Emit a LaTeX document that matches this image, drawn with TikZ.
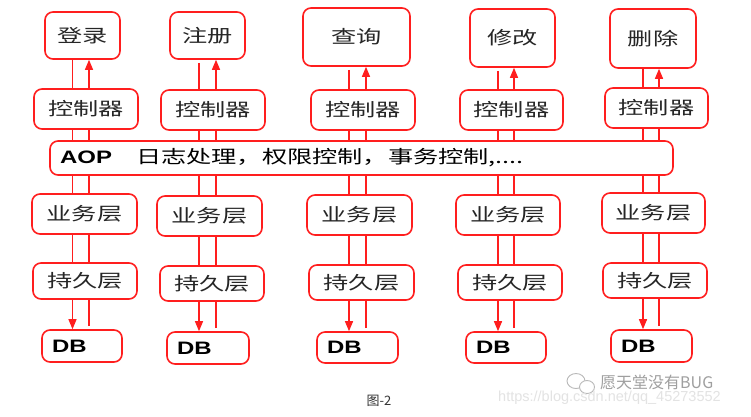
\documentclass[tikz,border=0pt]{standalone}
\usepackage{fontspec}
\setmainfont{Liberation Sans}
\newfontfamily\cjkw[FakeStretch=1.4]{Noto Sans CJK SC}
\newfontfamily\cjkn{Noto Sans CJK SC}
\newfontfamily\latw[FakeStretch=1.33]{Liberation Sans}
\usetikzlibrary{arrows.meta}
\pgfdeclarelayer{back}
\pgfdeclarelayer{bg}
\pgfsetlayers{back,bg,main}
\definecolor{lnred}{RGB}{255,30,30}
\tikzset{
  box/.style={draw=lnred, line width=1.6pt, rounded corners=8pt, fill=white,
    inner sep=0pt, text=black!85, font=\cjkw\fontsize{18}{20}\selectfont},
  dbbox/.style={box, font=\latw\bfseries\fontsize{18}{20}\selectfont, text=black},
  conn/.style={draw=lnred, line width=1.3pt},
  arr/.style={conn, -{Triangle[length=10pt,width=8pt]}},
  gap/.style={shorten <=3pt}
}
\newcommand\bx[7][box]{%
  \node[#1, minimum width={(#5-#3)*1pt}, minimum height={(#6-#4)*1pt}]
    (#2) at ({(#3+#5)/2},{(#4+#6)/2}) {#7};}
\begin{document}
\begin{tikzpicture}[x=1pt,y=-1pt]
\begin{pgfonlayer}{back}
\fill[white] (0,0) rectangle (751,416);
\end{pgfonlayer}
\useasboundingbox (0,0) rectangle (751,416);

% top boxes
\bx{t1}{45}{12}{120}{59}{登录}
\bx{t2}{170}{12}{245}{59}{注册}
\bx{t3}{303}{8}{410}{66}{查询}
\bx{t4}{470}{9}{555}{67}{修改}
\bx{t5}{610}{9}{696}{68}{删除}
% controllers
\bx{c1}{34}{89}{138}{129}{控制器}
\bx{c2}{161}{90}{265}{130}{控制器}
\bx{c3}{311}{90}{415}{130}{控制器}
\bx{c4}{460}{90}{563}{130}{控制器}
\bx{c5}{605}{88}{708}{128}{控制器}
% AOP bar
\bx{aop}{50}{141}{673}{175}{}
\node[anchor=west, inner sep=0pt] (aoptxt) at (60,158)
  {{\latw\bfseries\fontsize{18}{20}\selectfont AOP}\hspace{24pt}{\cjkw\fontsize{18}{20}\selectfont 日志处理，权限控制，事务控制,....}};
% service
\bx{s1}{32}{194}{137}{234}{业务层}
\bx{s2}{157}{196}{262}{236}{业务层}
\bx{s3}{307}{195}{412}{235}{业务层}
\bx{s4}{456}{195}{560}{235}{业务层}
\bx{s5}{602}{193}{705}{233}{业务层}
% persistence
\bx{p1}{33}{263}{137}{299}{持久层}
\bx{p2}{160}{266}{264}{301}{持久层}
\bx{p3}{309}{265}{414}{300}{持久层}
\bx{p4}{458}{265}{562}{300}{持久层}
\bx{p5}{603}{263}{707}{298}{持久层}
% DB
\bx[dbbox]{d1}{42}{330}{122}{362}{\makebox[60pt][l]{DB}}
\bx[dbbox]{d2}{167}{332}{249}{364}{\makebox[62pt][l]{DB}}
\bx[dbbox]{d3}{317}{332}{398}{363}{\makebox[61pt][l]{DB}}
\bx[dbbox]{d4}{466}{332}{546}{363}{\makebox[60pt][l]{DB}}
\bx[dbbox]{d5}{611}{330}{692}{362}{\makebox[61pt][l]{DB}}

% line columns
\coordinate (L1) at (72.5,0);  \coordinate (R1) at (89,0);
\coordinate (L2) at (199,0);   \coordinate (R2) at (216,0);
\coordinate (L3) at (349,0);   \coordinate (R3) at (366,0);
\coordinate (L4) at (498,0);   \coordinate (R4) at (514,0);
\coordinate (L5) at (643,0);   \coordinate (R5) at (659,0);

\begin{pgfonlayer}{bg}
\draw[arr] (t1.south -| L1) -- (d1.north -| L1);
\draw[arr, gap] (d1.north -| R1) -- (t1.south -| R1);
\draw[arr, gap] (t2.south -| L2) -- (d2.north -| L2);
\draw[arr, gap] (d2.north -| R2) -- (t2.south -| R2);
\draw[arr, gap] (t3.south -| L3) -- (d3.north -| L3);
\draw[arr, gap] (d3.north -| R3) -- (t3.south -| R3);
\draw[arr, gap] (t4.south -| L4) -- (d4.north -| L4);
\draw[arr, gap] (d4.north -| R4) -- (t4.south -| R4);
\draw[arr] (t5.south -| L5) -- (d5.north -| L5);
\draw[arr, gap] (d5.north -| R5) -- (t5.south -| R5);
\end{pgfonlayer}

% caption
\node[inner sep=0pt, text=black!80, font=\cjkn\fontsize{13}{15}\selectfont] (cap) at (379,401) {图-2};

% watermark
\draw[gray!55, line width=0.9pt, fill=white] (576,381) ellipse (9 and 7.5);
\draw[gray!55, line width=0.9pt, fill=white] (587,387) ellipse (7.5 and 6.5);
\node[anchor=west, inner sep=0pt, text=gray!75, font=\cjkn\fontsize{16}{18}\selectfont] (wm) at (600,382) {愿天堂没有BUG};
\node[anchor=west, inner sep=0pt, text=gray!22, font=\fontsize{14.5}{16}\selectfont] (url) at (498,398) {https://blog.csdn.net/qq\_45273552};
\end{tikzpicture}
\end{document}
